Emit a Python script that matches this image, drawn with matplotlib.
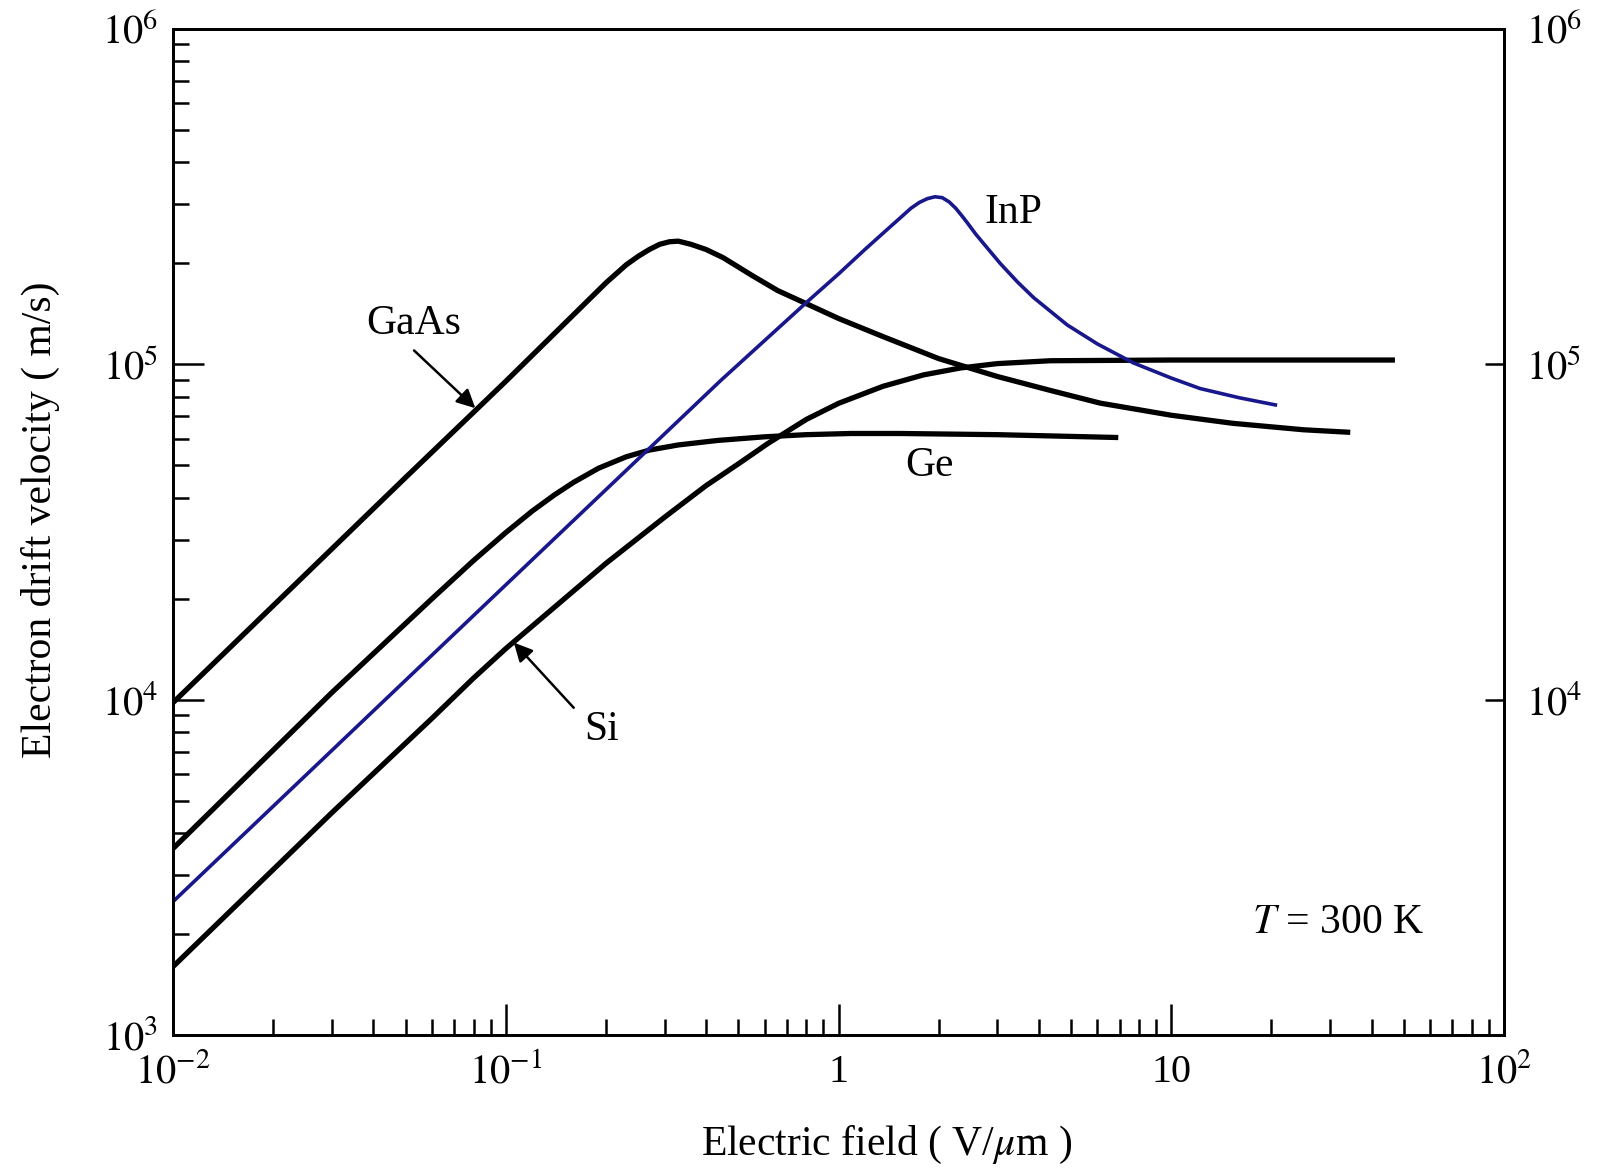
import matplotlib
matplotlib.use("Agg")
import matplotlib.pyplot as plt
from matplotlib.ticker import LogLocator, NullLocator, FixedLocator

# data (E in V/um, v in m/s)
gaas_E = [0.01, 0.05, 0.1, 0.2, 0.23, 0.25, 0.27, 0.29, 0.31, 0.33, 0.36, 0.40, 0.45, 0.55, 0.656, 0.785,
          1.0, 1.36, 2.0, 3.0, 4.33, 6.12, 10.0, 15.3, 25.0, 34.5]
gaas_v = [9.8e3, 4.6e4, 8.9e4, 1.75e5, 1.98e5, 2.1e5, 2.2e5, 2.28e5, 2.32e5, 2.33e5, 2.28e5, 2.2e5, 2.08e5, 1.84e5, 1.66e5, 1.53e5,
          1.37e5, 1.21e5, 1.04e5, 9.2e4, 8.36e4, 7.66e4, 7.05e4, 6.67e4, 6.38e4, 6.27e4]

ge_E = [0.01, 0.03, 0.06, 0.08, 0.1, 0.12, 0.14, 0.16, 0.19, 0.23, 0.27, 0.33, 0.433, 0.6, 0.8, 1.09, 1.53, 3.0, 6.93]
ge_v = [3.6e3, 1.05e4, 2.0e4, 2.6e4, 3.15e4, 3.65e4, 4.08e4, 4.45e4, 4.9e4, 5.3e4, 5.55e4, 5.75e4, 5.93e4, 6.08e4, 6.17e4, 6.22e4, 6.22e4, 6.17e4, 6.05e4]

si_E = [0.01, 0.03, 0.06, 0.08, 0.1, 0.15, 0.2, 0.3, 0.4, 0.5, 0.612, 0.8, 1.0, 1.36, 1.8, 2.32, 3.0, 4.33, 10.0, 47.0]
si_v = [1.6e3, 4.6e3, 8.8e3, 1.16e4, 1.42e4, 2.0e4, 2.55e4, 3.5e4, 4.35e4, 5.05e4, 5.8e4, 6.85e4, 7.65e4, 8.6e4, 9.3e4, 9.75e4, 1.005e5, 1.025e5, 1.03e5, 1.03e5]

inp_E = [0.01, 0.1, 0.443, 0.807, 1.0, 1.2, 1.36, 1.53, 1.65, 1.75, 1.85, 1.95, 2.05, 2.15, 2.25, 2.35, 2.44, 2.58, 2.72,
         3.06, 3.45, 3.86, 4.87, 6.0, 7.69, 10.0, 12.2, 16.0, 20.8]
inp_v = [2.5e3, 2.2e4, 8.96e4, 1.54e5, 1.86e5, 2.2e5, 2.46e5, 2.73e5, 2.92e5, 3.04e5, 3.12e5, 3.16e5, 3.14e5, 3.05e5, 2.92e5, 2.77e5, 2.64e5, 2.45e5, 2.3e5,
         2.0e5, 1.76e5, 1.58e5, 1.31e5, 1.15e5, 1.01e5, 9.1e4, 8.47e4, 7.95e4, 7.55e4]

x_ticks = [1e-2, 1e-1, 1, 10, 1e2]
x_ticklabels = [r"$10^{-2}$", r"$10^{-1}$", "1", "10", r"$10^{2}$"]
y_ticks = [1e3, 1e4, 1e5, 1e6]
y_ticklabels = [r"$10^{3}$", r"$10^{4}$", r"$10^{5}$", r"$10^{6}$"]
y2_ticks = [1e4, 1e5, 1e6]
y2_ticklabels = [r"$10^{4}$", r"$10^{5}$", r"$10^{6}$"]

plt.rcParams["font.family"] = ["Liberation Serif", "DejaVu Serif"]
plt.rcParams["mathtext.fontset"] = "stix"

fig = plt.figure(figsize=(15.98, 11.69), dpi=100)
ax = fig.add_axes([0.1083, 0.1146, 0.8329, 0.8606])

ax.plot(gaas_E, gaas_v, color="black", lw=3.8, solid_capstyle="butt", solid_joinstyle="round")
ax.plot(ge_E, ge_v, color="black", lw=3.8, solid_capstyle="butt", solid_joinstyle="round")
ax.plot(si_E, si_v, color="black", lw=3.8, solid_capstyle="butt", solid_joinstyle="round")
ax.plot(inp_E, inp_v, color="#18188c", lw=2.6, solid_capstyle="butt", solid_joinstyle="round")

ax.set_xscale("log")
ax.set_yscale("log")
ax.set_xlim(1e-2, 1e2)
ax.set_ylim(1e3, 1e6)

ax.xaxis.set_major_locator(FixedLocator(x_ticks))
ax.set_xticklabels(x_ticklabels)
ax.xaxis.set_minor_locator(LogLocator(base=10, subs=range(2, 10)))
ax.yaxis.set_major_locator(FixedLocator(y_ticks))
ax.set_yticklabels(y_ticklabels)
ax.yaxis.set_minor_locator(LogLocator(base=10, subs=range(2, 10)))
ax.xaxis.set_minor_formatter(plt.NullFormatter())
ax.yaxis.set_minor_formatter(plt.NullFormatter())

ax.tick_params(which="both", direction="in", top=False, right=False, labelsize=29, width=1.8)
ax.tick_params(which="major", length=22)
ax.tick_params(which="minor", length=11.5)
ax.tick_params(axis="y", pad=11)
ax.tick_params(axis="x", pad=34)
plt.setp(ax.get_xticklabels(), va="baseline")

for s in ax.spines.values():
    s.set_linewidth(2.0)

ax2 = ax.twinx()
ax2.set_yscale("log")
ax2.set_ylim(1e3, 1e6)
ax2.yaxis.set_major_locator(FixedLocator(y2_ticks))
ax2.set_yticklabels(y2_ticklabels)
ax2.yaxis.set_minor_locator(NullLocator())
ax2.tick_params(axis="y", direction="in", length=13.7, width=1.8, labelsize=29, pad=16)
for s in ax2.spines.values():
    s.set_linewidth(2.0)

ax.set_ylabel("Electron drift velocity ( m/s)", fontsize=30)
ax.yaxis.set_label_coords(-0.085, 0.512)
ax.set_xlabel(r"Electric field ( V/$\mu$m )", fontsize=30)
ax.xaxis.set_label_coords(0.536, -0.088)

# curve labels
ax.text(3.35, 2.84e5, "InP", fontsize=30, ha="center", va="center")
ax.text(0.053, 1.32e5, "GaAs", fontsize=30, ha="center", va="center")
ax.text(1.87, 4.97e4, "Ge", fontsize=30, ha="center", va="center")
ax.text(0.194, 8.13e3, "Si", fontsize=30, ha="center", va="center")
ax.text(31.7, 2.16e3, r"$T$ = 300 K", fontsize=30, ha="center", va="center")

arrow = dict(arrowstyle="-|>", lw=1.8, color="black", mutation_scale=28, shrinkA=0, shrinkB=0)
ax.annotate("", xy=(0.081, 7.4e4), xytext=(0.053, 1.10e5), arrowprops=arrow)
ax.annotate("", xy=(0.1057, 1.48e4), xytext=(0.16, 9.46e3), arrowprops=arrow)

fig.savefig("out.png", dpi=100)
